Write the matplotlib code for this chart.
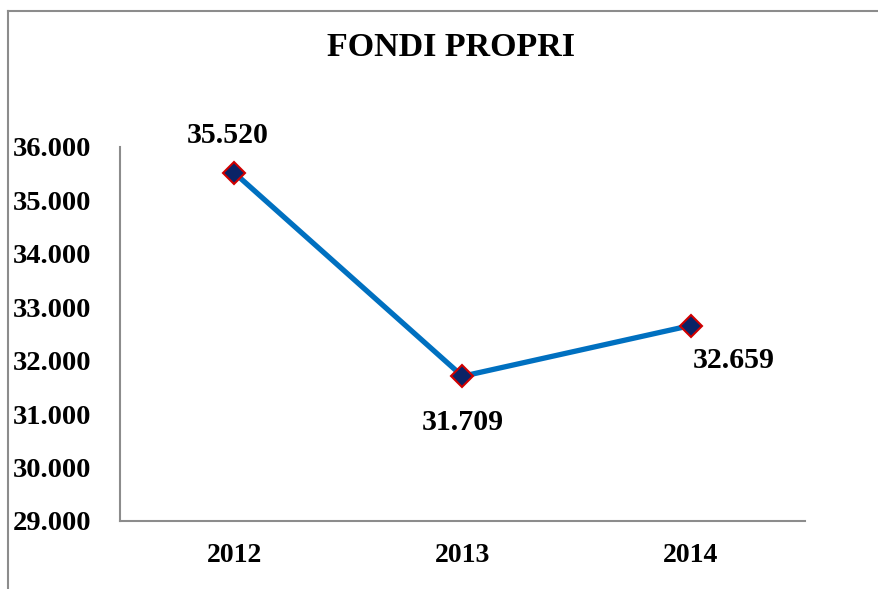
import matplotlib
matplotlib.use("Agg")
import matplotlib.pyplot as plt
from matplotlib.lines import Line2D

# data
years = ["2012", "2013", "2014"]
values = [35520, 31709, 32659]
labels = ["35.520", "31.709", "32.659"]
yticks = [29000, 30000, 31000, 32000, 33000, 34000, 35000, 36000]
ytick_labels = ["29.000", "30.000", "31.000", "32.000", "33.000", "34.000", "35.000", "36.000"]

font = "Liberation Serif"
W, H = 879, 589

fig = plt.figure(figsize=(8.79, 5.89), dpi=100)
ax = fig.add_axes([120 / W, 1 - 521 / H, (805 - 120) / W, (521 - 147) / H])

x = list(range(len(years)))
ax.plot(x, values, color="#0070C0", linewidth=3.8, marker="D", markersize=11,
        markerfacecolor="#0A2366", markeredgecolor="#D00000", markeredgewidth=1.5, zorder=3)

ax.set_xlim(-0.5, 2.5)
ax.set_ylim(29000, 36000)
ax.set_yticks(yticks)
ax.set_yticklabels(ytick_labels, fontfamily=font, fontweight="bold", fontsize=20.5, ha="left")
ax.set_xticks(x)
ax.set_xticklabels(years, fontfamily=font, fontweight="bold", fontsize=20)
ax.tick_params(axis="y", length=0, pad=77)
ax.tick_params(axis="x", length=0, pad=16)

for s in ["top", "right"]:
    ax.spines[s].set_visible(False)
for s in ["left", "bottom"]:
    ax.spines[s].set_color("#8c8c8c")
    ax.spines[s].set_linewidth(1.5)

# data labels
offsets = [(-5, 27), (0, -33), (31, -25)]
for xi, v, lab, off in zip(x, values, labels, offsets):
    ax.annotate(lab, (xi, v), xytext=off, textcoords="offset points",
                ha="center", va="center", fontfamily=font, fontweight="bold", fontsize=21.5)

fig.text(451 / W, 1 - 47 / H, "FONDI PROPRI", ha="center", va="center",
         fontfamily=font, fontweight="bold", fontsize=24.5)

# outer chart border (left and top visible)
fig.add_artist(Line2D([8 / W, 8 / W], [0, 1 - 11 / H], color="#8c8c8c", linewidth=1.5,
                      transform=fig.transFigure))
fig.add_artist(Line2D([8 / W, 1], [1 - 11 / H, 1 - 11 / H], color="#8c8c8c", linewidth=1.5,
                      transform=fig.transFigure))

fig.savefig("out.png", dpi=100)
